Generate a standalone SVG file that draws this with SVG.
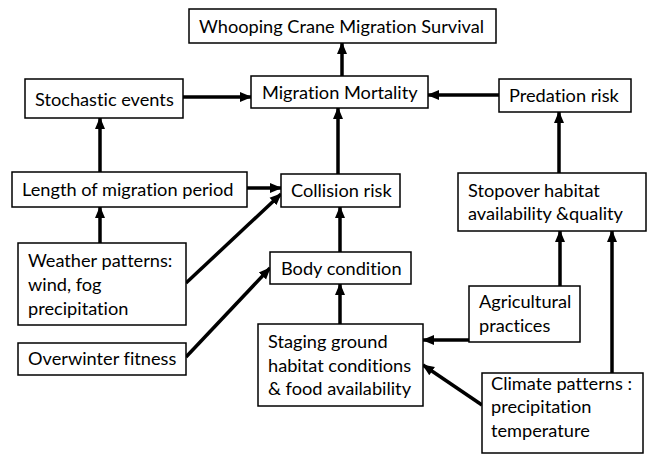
<svg xmlns="http://www.w3.org/2000/svg" width="649" height="454" viewBox="0 0 649 454">
<style>
.b{fill:#fff;stroke:#000;stroke-width:1.5}
.t{font-family:Lato,"Liberation Sans",sans-serif;font-size:18.2px;fill:#000;font-variant-ligatures:none;font-feature-settings:"liga" 0}
.a{stroke:#000;stroke-width:3.5;fill:none;marker-end:url(#h)}
</style>
<defs>
<marker id="h" markerUnits="userSpaceOnUse" markerWidth="12" markerHeight="12" viewBox="0 0 12 12" refX="11" refY="6" orient="auto">
<path d="M0,1 L12,6 L0,11 Z" fill="#000"/>
</marker>
</defs>
<rect width="649" height="454" fill="#fff"/>
<g id="connectors">
<line class="a" x1="342" y1="76" x2="342" y2="43"/>
<line class="a" x1="183" y1="97" x2="251" y2="97"/>
<line class="a" x1="499" y1="95" x2="428" y2="95"/>
<line class="a" x1="100" y1="172" x2="100" y2="118"/>
<line class="a" x1="338" y1="174" x2="338" y2="108"/>
<line class="a" x1="559" y1="173" x2="559" y2="112"/>
<line class="a" x1="247" y1="188" x2="281" y2="188"/>
<line class="a" x1="186" y1="283" x2="281" y2="194"/>
<line class="a" x1="100" y1="243" x2="100" y2="207"/>
<line class="a" x1="340" y1="252" x2="340" y2="207"/>
<line class="a" x1="186" y1="357" x2="270" y2="268"/>
<line class="a" x1="340" y1="324" x2="340" y2="284"/>
<line class="a" x1="469" y1="340" x2="423" y2="340"/>
<line class="a" x1="560" y1="286" x2="560" y2="231"/>
<line class="a" x1="482" y1="405" x2="423" y2="365"/>
<line class="a" x1="612" y1="373" x2="612" y2="231"/>
</g>
<g id="survival"><rect class="b" x="189" y="9" width="307" height="34"/><text class="t" x="199" y="33">Whooping Crane Migration Survival</text></g>
<g id="stochastic"><rect class="b" x="25" y="79" width="158" height="39"/><text class="t" x="35" y="106">Stochastic events</text></g>
<g id="mortality"><rect class="b" x="251" y="76" width="177" height="32"/><text class="t" x="262" y="99">Migration Mortality</text></g>
<g id="predation"><rect class="b" x="499" y="79" width="132" height="33"/><text class="t" x="509" y="102">Predation risk</text></g>
<g id="length"><rect class="b" x="12" y="172" width="235" height="35"/><text class="t" x="22" y="196">Length of migration period</text></g>
<g id="collision"><rect class="b" x="281" y="174" width="119" height="33"/><text class="t" x="291" y="197">Collision risk</text></g>
<g id="stopover"><rect class="b" x="458" y="173" width="188" height="58"/><text class="t" x="468" y="197">Stopover habitat</text><text class="t" x="468" y="220">availability &amp;quality</text></g>
<g id="weather"><rect class="b" x="18" y="243" width="168" height="82"/><text class="t" x="28" y="267">Weather patterns:</text><text class="t" x="28" y="291">wind, fog</text><text class="t" x="28" y="315">precipitation</text></g>
<g id="body"><rect class="b" x="270" y="252" width="141" height="32"/><text class="t" x="281" y="275">Body condition</text></g>
<g id="agri"><rect class="b" x="469" y="286" width="111" height="56"/><text class="t" x="479" y="308">Agricultural</text><text class="t" x="479" y="332">practices</text></g>
<g id="overwinter"><rect class="b" x="18" y="343" width="168" height="32"/><text class="t" x="28" y="365">Overwinter fitness</text></g>
<g id="staging"><rect class="b" x="258" y="324" width="165" height="82"/><text class="t" x="268" y="348">Staging ground</text><text class="t" x="268" y="372">habitat conditions</text><text class="t" x="268" y="395">&amp; food availability</text></g>
<g id="climate"><rect class="b" x="482" y="373" width="161" height="80"/><text class="t" x="491" y="390">Climate patterns :</text><text class="t" x="491" y="413">precipitation</text><text class="t" x="491" y="437">temperature</text></g>
</svg>
